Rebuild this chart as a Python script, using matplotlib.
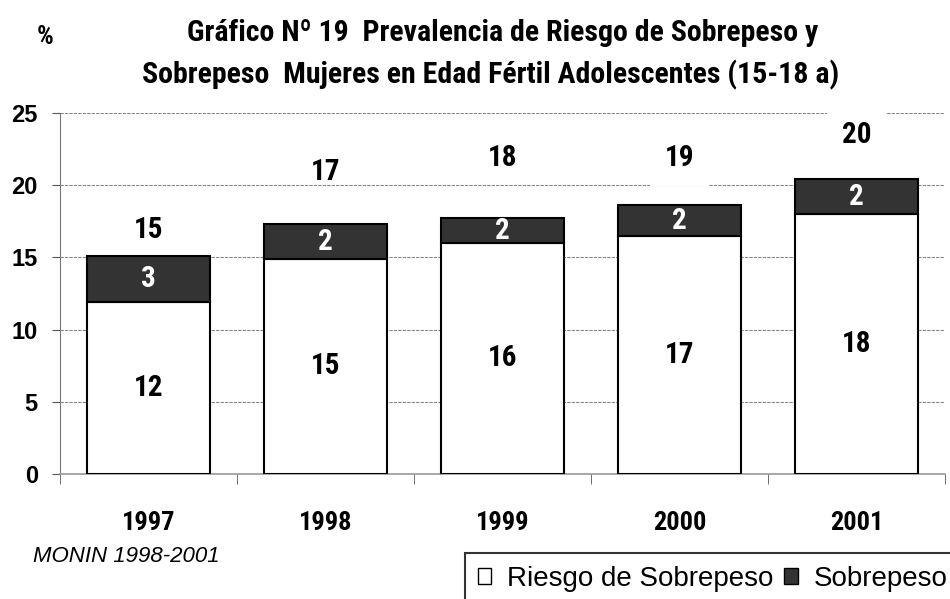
import numpy as np
import matplotlib
matplotlib.use('Agg')
import matplotlib.pyplot as plt
from matplotlib.patches import Patch
from matplotlib import font_manager as fm

# Data
years = ['1997', '1998', '1999', '2000', '2001']
riesgo = [11.9, 14.9, 16.0, 16.5, 18.0]
sobrepeso = [3.2, 2.4, 1.7, 2.1, 2.4]
riesgo_lbl = ['12', '15', '16', '17', '18']
sobre_lbl = ['3', '2', '2', '2', '2']
total_lbl = ['15', '17', '18', '19', '20']

# pick a narrow font that has a bold face, if one is installed
bold_names = {f.name for f in fm.fontManager.ttflist
              if isinstance(f.weight, int) and f.weight >= 700 or f.weight == 'bold'}
narrow_pref = ['Liberation Sans Narrow', 'Arial Narrow', 'Roboto Condensed',
               'Archivo Narrow', 'Fira Sans Condensed', 'IBM Plex Sans Condensed',
               'Encode Sans Condensed', 'Open Sans Condensed', 'PT Sans Narrow',
               'Pragati Narrow', 'Ubuntu Condensed', 'Asap Condensed']
cands = [n for n in narrow_pref if n in bold_names]
if not cands:
    cands = sorted(n for n in bold_names if 'Narrow' in n or 'Condensed' in n)
narrow = (cands[:1] or ['Liberation Sans']) + ['DejaVu Sans']
arial = ['Liberation Sans', 'DejaVu Sans']

fig = plt.figure(figsize=(9.5, 5.99), dpi=100)
ax = fig.add_axes([60/950, 125/599, 885/950, 361/599])

x = np.arange(len(years))
w = 0.69
ax.bar(x, riesgo, w, color='white', edgecolor='black', linewidth=1.5, zorder=3)
ax.bar(x, sobrepeso, w, bottom=riesgo, color='#333333', edgecolor='black',
       linewidth=1.5, zorder=3)

# segment labels
for i in range(len(years)):
    ax.text(x[i], riesgo[i] / 2, riesgo_lbl[i], ha='center', va='center',
            fontsize=21, fontweight='bold', family=narrow, zorder=5)
    ax.text(x[i], riesgo[i] + sobrepeso[i] / 2, sobre_lbl[i], ha='center', va='center',
            fontsize=21, fontweight='bold', family=narrow, color='white', zorder=5)

# total labels (placed by hand as in the original)
total_y = [16.9, 20.9, 21.9, 21.9, 23.5]
boxed = [False, False, False, True, True]
for i in range(len(years)):
    kw = {}
    if boxed[i]:
        kw['bbox'] = dict(boxstyle='square,pad=0.5', facecolor='white', edgecolor='none')
    ax.text(x[i], total_y[i], total_lbl[i], ha='center', va='center',
            fontsize=21, fontweight='bold', family=narrow, zorder=6, **kw)

ax.set_xlim(-0.5, len(years) - 0.5)
ax.set_ylim(0, 25)
ax.set_yticks([0, 5, 10, 15, 20, 25])
ax.set_yticklabels(['0', '5', '10', '15', '20', '25'], fontsize=17, fontweight='bold', family=arial)
ax.set_xticks(x)
ax.set_xticklabels(years, fontsize=19, fontweight='bold', family=narrow)
ax.set_xticks(np.arange(-0.5, len(years)), minor=True)
ax.tick_params(axis='x', which='major', length=0, pad=27)
ax.tick_params(axis='x', which='minor', length=7, color='#555555', direction='out')
ax.tick_params(axis='y', length=6, color='#555555', pad=10)

ax.yaxis.grid(True, linestyle=(0, (3, 1)), color='#888888', linewidth=0.8, zorder=0)
for s in ['top', 'right']:
    ax.spines[s].set_visible(False)
ax.spines['left'].set_color('#777777')
ax.spines['bottom'].set_color('#999999')
ax.spines['bottom'].set_linewidth(1.2)

fig.text(503/950, 1 - 33/599, 'Gráfico Nº 19  Prevalencia de Riesgo de Sobrepeso y',
         ha='center', va='center', fontsize=21.5, fontweight='bold', family=narrow)
fig.text(491/950, 1 - 75/599, 'Sobrepeso  Mujeres en Edad Fértil Adolescentes (15-18 a)',
         ha='center', va='center', fontsize=21.5, fontweight='bold', family=narrow)
fig.text(45/950, 1 - 37/599, '%', ha='center', va='center', fontsize=19,
         fontweight='bold', family=narrow)
fig.text(33/950, 1 - 556/599, 'MONIN 1998-2001', ha='left', va='center',
         fontsize=16, style='italic', family=arial)

handles = [Patch(facecolor='white', edgecolor='black'),
           Patch(facecolor='#333333', edgecolor='black')]
leg = fig.legend(handles, ['Riesgo de Sobrepeso', 'Sobrepeso'], loc='upper left',
                 bbox_to_anchor=(465/950, 1 - 553/599), borderaxespad=0, ncol=2,
                 frameon=True, fancybox=False, edgecolor='black',
                 handlelength=0.5, handleheight=0.5, handletextpad=0.55,
                 columnspacing=0.4, borderpad=0.45, prop={'family': arial, 'size': 20})
leg.get_frame().set_linewidth(1.5)

fig.savefig('out.png', dpi=100)
